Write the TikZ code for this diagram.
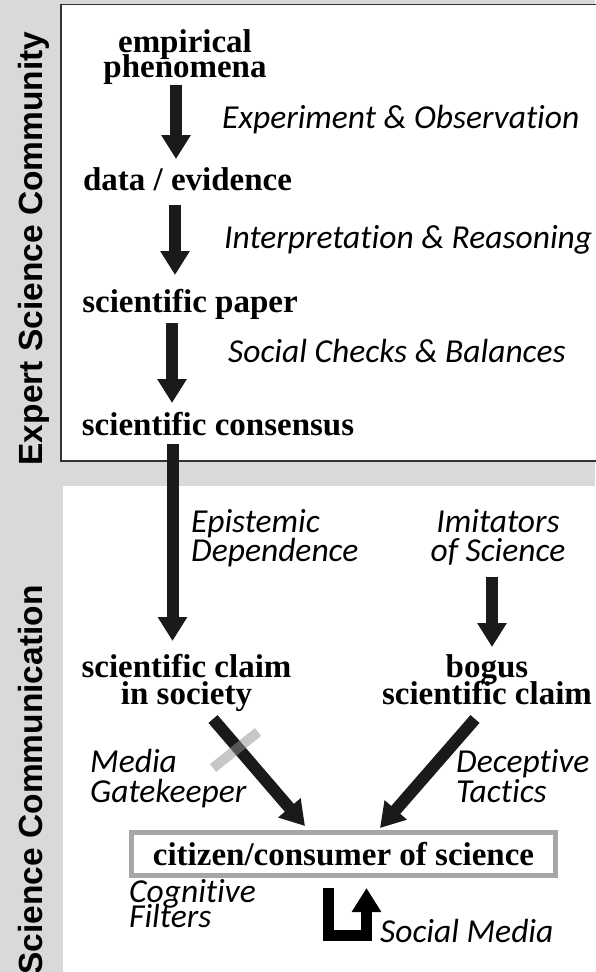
\documentclass[tikz,border=0pt]{standalone}
\usepackage{fontspec}
\setmainfont{Liberation Serif}
\newfontfamily\lblfont[Ligatures=NoCommon]{Carlito}
\newfontfamily\sidefont{Liberation Sans}
\usetikzlibrary{arrows.meta}
\definecolor{bggray}{HTML}{D9D9D9}
\definecolor{arrowc}{HTML}{1A1A1A}
\definecolor{boxgray}{HTML}{A6A6A6}
\definecolor{crossgray}{HTML}{919191}
\definecolor{framec}{HTML}{333333}
\newcommand\twoC[3]{\vtop{\baselineskip=#3\lineskiplimit=-100pt\lineskip=0pt\halign{\hfil##\hfil\cr #1\cr #2\cr}}}
\newcommand\twoL[3]{\vtop{\baselineskip=#3\lineskiplimit=-100pt\lineskip=0pt\halign{##\hfil\cr #1\cr #2\cr}}}
\begin{document}
\begin{tikzpicture}[x=1pt,y=-1pt,
  term/.style={font=\fontsize{33}{33}\selectfont\bfseries, inner sep=0pt, anchor=base},
  lbl/.style={font=\lblfont\fontsize{33.5}{33}\selectfont\itshape, inner sep=0pt, anchor=base west},
  lblc/.style={font=\lblfont\fontsize{33.5}{33}\selectfont\itshape, inner sep=0pt, anchor=base},
  side/.style={font=\sidefont\fontsize{33.5}{34}\selectfont\bfseries, inner sep=0pt, rotate=90, anchor=base},
  bigarrow/.style={draw=arrowc, line width=12pt, -{Triangle[width=28pt,length=24pt]}},
  turnarrow/.style={draw=black, line width=11pt, line join=miter, -{Triangle[width=28pt,length=24pt]}},
  gate/.style={draw=crossgray, opacity=0.5, line width=10pt},
  citbox/.style={draw=boxgray, line width=5pt, fill=white, inner sep=0pt, minimum width=424pt, minimum height=43pt, font=\fontsize{33}{33}\selectfont\bfseries},
]
\useasboundingbox (0,0) rectangle (595,972);
% backgrounds
\fill[bggray] (0,0) rectangle (595,972);
\draw[draw=framec, line width=1.3pt, fill=white] (61,4.7) rectangle (610,461);
\fill[white] (63,486) rectangle (595,972);

% side labels
\node[side] (esc) at (42,248.5) {Expert Science Community};
\node[side] (scom) at (42.5,780) {Science Communication};

% expert community nodes
\node[term] (ep) at (185,52) {\twoC{empirical}{phenomena}{25pt}};
\node[term] (de) at (187.5,190) {data / evidence};
\node[term] (sp) at (190,312) {scientific paper};
\node[term] (sc) at (218,435) {scientific consensus};

\node[lbl] (exp) at (222,128) {Experiment \& Observation};
\node[lbl] (int) at (224,248) {Interpretation \& Reasoning};
\node[lbl] (soc) at (228,362) {Social Checks \& Balances};

% communication nodes
\node[lbl] (epi) at (191,532) {\twoL{Epistemic}{Dependence}{29pt}};
\node[lblc] (imi) at (498,532) {\twoC{Imitators}{of Science}{29pt}};
\node[term] (scl) at (186.5,677) {\twoC{scientific claim}{in society}{27pt}};
\node[term] (bog) at (487,677) {\twoC{bogus}{scientific claim}{27pt}};
\node[lbl] (med) at (90,772) {\twoL{Media}{Gatekeeper}{30pt}};
\node[lbl] (dec) at (456,772) {\twoL{Deceptive}{Tactics}{30pt}};
\node[citbox] (cit) at (343.5,854) {citizen/consumer of science};
\node[lbl] (cog) at (129,902) {\twoL{Cognitive}{Filters}{25pt}};
\node[lbl] (smd) at (380,942) {Social Media};

% arrow end points
\coordinate (a1s) at (176,85);    \coordinate (a1e) at (176,159);
\coordinate (a2s) at (175,205);   \coordinate (a2e) at (175,275);
\coordinate (a3s) at (172,323);   \coordinate (a3e) at (172,403);
\coordinate (a4s) at (172.5,444); \coordinate (a4e) at (172.5,641);
\coordinate (a5s) at (492,577);   \coordinate (a5e) at (492,647);
\coordinate (a6s) at (213,719);   \coordinate (a6e) at (305,826);
\coordinate (a7s) at (475,719);   \coordinate (a7e) at (380,828);
\coordinate (gk1) at (213,768);   \coordinate (gk2) at (258,732);
\coordinate (sm1) at (328.5,888); \coordinate (sm2) at (328.5,935.5);
\coordinate (sm3) at (366.5,935.5); \coordinate (sm4) at (366.5,888);

\draw[bigarrow] (a1s) -- (a1e);
\draw[bigarrow] (a2s) -- (a2e);
\draw[bigarrow] (a3s) -- (a3e);
\draw[bigarrow] (a4s) -- (a4e);
\draw[bigarrow] (a5s) -- (a5e);
\draw[bigarrow] (a6s) -- (a6e);
\draw[bigarrow] (a7s) -- (a7e);
\draw[gate] (gk1) -- (gk2);
\draw[turnarrow] (sm1) -- (sm2) -- (sm3) -- (sm4);
\end{tikzpicture}
\end{document}
